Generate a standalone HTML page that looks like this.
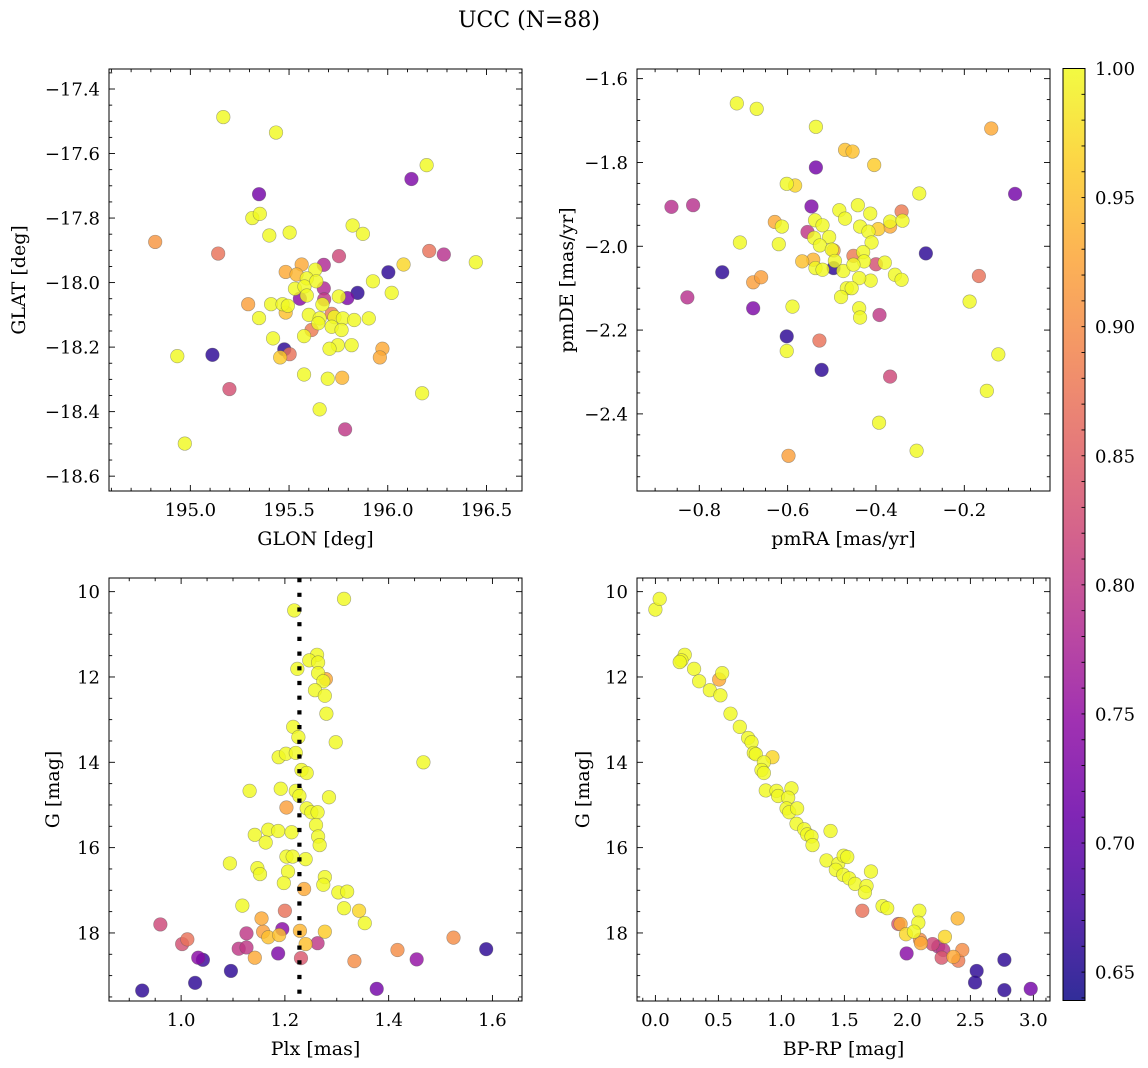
<!DOCTYPE html>
<html><head><meta charset="utf-8">
<style>
html,body{margin:0;padding:0;background:#fff;}
svg{display:block;font-family:"DejaVu Serif","Liberation Serif",serif;}
</style></head>
<body>
<svg id="fig" width="1148" height="1068" viewBox="0 0 1148 1068" xmlns="http://www.w3.org/2000/svg">
<rect width="1148" height="1068" fill="#fff"/>
<text x="529" y="27" font-size="22" text-anchor="middle">UCC (N=88)</text>
</svg>
<script>
// ---- Panel 1: GLON vs GLAT ----
const p1Glon = [195.167,195.434,196.197,196.12,195.348,195.314,195.352,195.40,195.503,195.822,195.874,194.822,195.141,195.753,196.21,196.284,196.446,196.08,196.003,195.925,196.02,195.847,195.795,195.483,195.564,195.676,195.633,195.676,195.538,195.59,195.53,195.578,195.555,195.638,195.59,195.678,195.409,195.467,195.494,195.483,195.293,195.348,195.669,195.752,195.716,195.6,195.655,195.73,195.773,195.83,195.904,195.716,195.648,195.766,195.614,195.576,195.419,195.817,195.747,195.705,195.476,195.503,195.455,195.112,194.934,195.973,195.96,195.576,195.696,195.769,195.198,196.174,195.655,195.784,194.972];
const p1Glat = [-17.487,-17.535,-17.636,-17.679,-17.726,-17.800,-17.787,-17.854,-17.845,-17.823,-17.849,-17.874,-17.910,-17.918,-17.902,-17.913,-17.937,-17.944,-17.968,-17.996,-18.032,-18.032,-18.048,-17.967,-17.944,-17.945,-17.96,-18.018,-17.975,-17.987,-18.019,-18.012,-18.05,-17.996,-18.04,-18.052,-18.067,-18.067,-18.072,-18.093,-18.067,-18.11,-18.068,-18.043,-18.097,-18.1,-18.111,-18.107,-18.111,-18.116,-18.111,-18.137,-18.126,-18.147,-18.147,-18.166,-18.173,-18.194,-18.194,-18.205,-18.207,-18.222,-18.232,-18.224,-18.228,-18.205,-18.232,-18.285,-18.298,-18.295,-18.33,-18.343,-18.393,-18.455,-18.499];
const p1Prob = [1,1,1,0.73,0.72,1,1,1,1,1,1,0.91,0.87,0.82,0.87,0.79,1,0.97,0.66,1,1,0.66,0.73,0.93,0.93,0.78,1,0.78,0.94,1,1,1,0.74,1,1,0.8,1,1,1,0.95,0.92,1,1,1,0.88,1,1,1,1,1,1,1,1,1,0.88,1,1,1,1,1,0.66,0.87,0.96,0.66,1,0.93,0.93,1,1,0.94,0.83,1,1,0.8,1];
const p1XTicks = [195.0,195.5,196.0,196.5];
const p1YTicks = [-17.4,-17.6,-17.8,-18.0,-18.2,-18.4,-18.6];

// ---- Panel 2: pmRA vs pmDE ----
const p2Pmra = [-0.715,-0.670,-0.536,-0.139,-0.470,-0.453,-0.404,-0.536,-0.602,-0.583,-0.302,-0.085,-0.863,-0.814,-0.546,-0.441,-0.483,-0.470,-0.342,-0.413,-0.629,-0.613,-0.538,-0.521,-0.436,-0.395,-0.368,-0.368,-0.340,-0.555,-0.417,-0.410,-0.540,-0.506,-0.527,-0.496,-0.500,-0.708,-0.620,-0.451,-0.429,-0.400,-0.380,-0.427,-0.567,-0.542,-0.537,-0.521,-0.496,-0.493,-0.474,-0.451,-0.748,-0.287,-0.357,-0.342,-0.412,-0.438,-0.678,-0.660,-0.167,-0.466,-0.455,-0.479,-0.827,-0.678,-0.589,-0.438,-0.436,-0.392,-0.188,-0.602,-0.528,-0.602,-0.123,-0.523,-0.368,-0.149,-0.393,-0.308,-0.598];
const p2Pmde = [-1.659,-1.672,-1.715,-1.719,-1.770,-1.774,-1.806,-1.812,-1.851,-1.855,-1.874,-1.875,-1.906,-1.902,-1.905,-1.902,-1.914,-1.934,-1.917,-1.922,-1.942,-1.953,-1.938,-1.950,-1.953,-1.959,-1.941,-1.953,-1.939,-1.966,-1.965,-1.991,-1.980,-1.978,-1.998,-2.010,-2.008,-1.991,-1.995,-2.023,-2.014,-2.043,-2.039,-2.036,-2.036,-2.032,-2.052,-2.056,-2.052,-2.035,-2.059,-2.044,-2.062,-2.017,-2.068,-2.080,-2.082,-2.076,-2.086,-2.074,-2.071,-2.100,-2.100,-2.121,-2.122,-2.148,-2.144,-2.148,-2.170,-2.164,-2.132,-2.215,-2.225,-2.250,-2.258,-2.295,-2.311,-2.345,-2.421,-2.488,-2.500];
const p2Prob = [1,1,1,0.93,0.95,0.95,0.96,0.72,1,0.97,1,0.72,0.79,0.79,0.73,1,1,1,0.88,1,0.93,1,1,1,1,0.96,1,0.93,1,0.8,1,1,1,1,1,0.92,1,1,1,0.88,1,0.83,1,1,0.95,0.94,1,1,0.66,1,1,1,0.66,0.66,1,1,1,1,0.92,0.92,0.87,1,1,1,0.79,0.73,1,1,1,0.8,1,0.66,0.87,1,1,0.66,0.82,1,1,1,0.92];
const p2XTicks = [-0.8,-0.6,-0.4,-0.2];
const p2YTicks = [-1.6,-1.8,-2.0,-2.2,-2.4];

// ---- Panel 3: Plx vs G ----
const p3Plx = [1.314,1.218,1.262,1.247,1.264,1.224,1.264,1.279,1.274,1.258,1.277,1.280,1.216,1.226,1.298,1.188,1.202,1.221,1.467,1.232,1.242,1.132,1.192,1.221,1.228,1.285,1.203,1.242,1.251,1.263,1.142,1.168,1.187,1.213,1.163,1.260,1.264,1.267,1.094,1.203,1.215,1.240,1.147,1.152,1.206,1.198,1.277,1.274,1.237,1.303,1.320,1.118,1.314,1.343,1.354,1.200,1.155,0.960,1.195,1.158,1.126,1.168,1.189,1.229,1.277,1.012,1.002,1.111,1.126,1.240,1.263,1.525,1.417,1.588,1.033,1.042,1.142,1.187,1.231,1.334,1.454,1.096,1.027,0.925,1.377];
const p3G = [10.17,10.44,11.48,11.61,11.66,11.81,11.91,12.05,12.10,12.31,12.44,12.86,13.17,13.41,13.53,13.88,13.80,13.78,14.00,14.18,14.25,14.67,14.62,14.67,14.79,14.82,15.06,15.08,15.17,15.17,15.70,15.58,15.61,15.64,15.88,15.47,15.74,15.94,16.37,16.21,16.21,16.27,16.48,16.62,16.56,16.83,16.69,16.87,16.97,17.05,17.03,17.36,17.42,17.48,17.77,17.48,17.66,17.80,17.91,17.97,18.01,18.10,18.05,17.95,17.97,18.15,18.26,18.37,18.34,18.26,18.24,18.11,18.40,18.38,18.58,18.63,18.58,18.48,18.59,18.66,18.62,18.89,19.17,19.35,19.31];
const p3Prob = [1,1,1,1,1,1,1,0.93,1,1,1,1,1,1,1,1,1,1,1,1,1,1,1,1,1,1,0.92,1,1,1,1,1,1,1,1,1,1,1,1,1,1,1,1,1,1,1,1,1,0.93,1,1,1,1,0.97,1,0.87,0.93,0.82,0.74,0.92,0.8,0.95,0.95,0.94,0.96,0.87,0.83,0.8,0.8,0.95,0.8,0.9,0.9,0.66,0.74,0.67,0.93,0.73,0.84,0.9,0.75,0.66,0.66,0.66,0.72];
const p3XTicks = [1.0,1.2,1.4,1.6];
const p3YTicks = [10,12,14,16,18];
const p3PlxMedian = 1.228;

// ---- Panel 4: BP-RP vs G ----
const p4Bprp = [0.000,0.034,0.233,0.207,0.193,0.307,0.530,0.506,0.347,0.432,0.516,0.596,0.670,0.736,0.763,0.781,0.797,0.929,0.861,0.842,0.861,0.876,0.961,0.974,1.080,1.054,1.041,1.062,1.125,1.120,1.181,1.205,1.239,1.247,1.390,1.358,1.451,1.494,1.523,1.432,1.491,1.538,1.585,1.711,1.676,1.663,1.803,1.840,1.642,2.095,2.087,1.928,1.946,2.399,1.989,2.052,2.100,2.108,2.298,1.994,2.200,2.245,2.285,2.272,2.365,2.404,2.436,2.550,2.537,2.770,2.770,2.979];
const p4G = [10.42,10.17,11.48,11.61,11.65,11.81,11.91,12.06,12.10,12.31,12.43,12.86,13.17,13.43,13.53,13.78,13.81,13.88,14.00,14.18,14.25,14.66,14.67,14.79,14.61,14.83,15.08,15.17,15.08,15.44,15.57,15.69,15.74,15.94,15.61,16.30,16.38,16.19,16.22,16.52,16.64,16.72,16.85,16.56,16.90,17.05,17.37,17.42,17.48,17.48,17.76,17.79,17.79,17.66,18.03,17.97,18.16,18.24,18.09,18.48,18.26,18.32,18.40,18.58,18.56,18.65,18.40,18.89,19.16,18.63,19.34,19.31];
const p4Prob = [1,1,1,1,1,1,1,0.93,1,1,1,1,1,1,1,1,1,0.97,1,1,1,1,1,1,1,1,1,1,1,1,1,1,1,1,1,1,1,1,1,1,1,1,1,1,1,1,1,1,0.87,1,1,0.84,0.93,0.94,0.97,1,0.9,0.93,0.97,0.74,0.82,0.79,0.8,0.84,0.93,0.88,0.9,0.66,0.66,0.66,0.66,0.72];
const p4XTicks = [0.0,0.5,1.0,1.5,2.0,2.5,3.0];
const p4YTicks = [10,12,14,16,18];

// ---- Colorbar ----
const cbTicks = [0.65,0.70,0.75,0.80,0.85,0.90,0.95,1.00];
const cbMin = 0.639, cbMax = 1.0;

const NS = "http://www.w3.org/2000/svg";
const svg = document.getElementById('fig');
function mk(tag, attrs, parent){
  const e = document.createElementNS(NS, tag);
  for (const k in attrs) e.setAttribute(k, attrs[k]);
  (parent||svg).appendChild(e);
  return e;
}
const plasmaStops = ["#0d0887","#41049d","#6a00a8","#8f0da4","#b12a90","#cc4778","#e16462","#f2844b","#fca636","#fcce25","#f0f921"];
function hex2rgb(h){return [parseInt(h.substr(1,2),16),parseInt(h.substr(3,2),16),parseInt(h.substr(5,2),16)];}
function plasma(t){
  t = Math.max(0, Math.min(1, t));
  const f = t*10, i = Math.min(9, Math.floor(f)), r = f - i;
  const a = hex2rgb(plasmaStops[i]), b = hex2rgb(plasmaStops[i+1]);
  return 'rgb(' + a.map((v,k)=>Math.round(v+(b[k]-v)*r)).join(',') + ')';
}
function probColor(p){ return plasma((p-cbMin)/(cbMax-cbMin)); }

function fmt(v, d){ const s = v.toFixed(d); return s.replace('-', '\u2212'); }

function panel(cfg){
  const g = mk('g', {});
  
  
  const L = cfg.box[0], T = cfg.box[1], R = cfg.box[2], B = cfg.box[3];
  const sx = v => L + (v - cfg.xlim[0])/(cfg.xlim[1]-cfg.xlim[0])*(R-L);
  const sy = v => B - (v - cfg.ylim[0])/(cfg.ylim[1]-cfg.ylim[0])*(B-T);
  const clip = mk('clipPath', {id: cfg.name+'-clip'}, g);
  mk('rect', {x:L, y:T, width:R-L, height:B-T}, clip);
  const pts = mk('g', {'clip-path':'url(#'+cfg.name+'-clip)'}, g);
  
  
  const idx = cfg.xs.map((_,i)=>i).sort((a,b)=>cfg.c[a]-cfg.c[b]);
  idx.forEach(i=>{
    const c = mk('circle', {cx: sx(cfg.xs[i]), cy: sy(cfg.ys[i]), r: 6.8, fill: probColor(cfg.c[i]), 'fill-opacity': 0.82, stroke: '#555', 'stroke-opacity':0.5, 'stroke-width':0.6}, pts);
    
    
  });
  if (cfg.vline !== undefined){
    const ln = mk('line', {x1: sx(cfg.vline), x2: sx(cfg.vline), y1: T, y2: B, stroke:'#000', 'stroke-width':4.2, 'stroke-dasharray':'4.2 10.5'}, pts);
    
    
  }
  const tk = mk('g', {stroke:'#000', 'stroke-width':0.9}, g);
  
  
  const lo = Math.min(cfg.xlim[0],cfg.xlim[1]), hi = Math.max(cfg.xlim[0],cfg.xlim[1]);
  for (let k = Math.ceil(lo/cfg.xminor - 1e-6); k*cfg.xminor <= hi + 1e-9; k++){
    const v = k*cfg.xminor, x = sx(v);
    const major = cfg.xticks.some(t=>Math.abs(t-v)<1e-6);
    const len = major ? 6 : 3.2;
    mk('line', {x1:x, x2:x, y1:B, y2:B-len}, tk);
    mk('line', {x1:x, x2:x, y1:T, y2:T+len}, tk);
  }
  const ylo = Math.min(cfg.ylim[0],cfg.ylim[1]), yhi = Math.max(cfg.ylim[0],cfg.ylim[1]);
  for (let k = Math.ceil(ylo/cfg.yminor - 1e-6); k*cfg.yminor <= yhi + 1e-9; k++){
    const v = k*cfg.yminor, y = sy(v);
    const major = cfg.yticks.some(t=>Math.abs(t-v)<1e-6);
    const len = major ? 6 : 3.2;
    mk('line', {x1:L, x2:L+len, y1:y, y2:y}, tk);
    mk('line', {x1:R, x2:R-len, y1:y, y2:y}, tk);
  }
  cfg.xticks.forEach(v=>{
    const t = mk('text', {x: sx(v), y: B+25, 'font-size':18, 'text-anchor':'middle'}, g);
    t.textContent = fmt(v, cfg.xdec);
    
    
  });
  cfg.yticks.forEach(v=>{
    const t = mk('text', {x: L-9, y: sy(v)+6.5, 'font-size':18, 'text-anchor':'end'}, g);
    t.textContent = fmt(v, cfg.ydec);
    
    
  });
  const fr = mk('rect', {x:L, y:T, width:R-L, height:B-T, fill:'none', stroke:'#000', 'stroke-width':1}, g);
  
  
  const xl = mk('text', {x:(L+R)/2, y:B+54, 'font-size':19, 'text-anchor':'middle'}, g);
  xl.textContent = cfg.xlabel;
  
  
  const yl = mk('text', {x:0, y:0, 'font-size':19, 'text-anchor':'middle', transform:'translate('+cfg.ylabelX+','+((T+B)/2)+') rotate(-90)'}, g);
  yl.textContent = cfg.ylabel;
  
  
}

panel({name:'glon-glat-panel', box:[109,69,522,491], xlim:[194.588,196.68], ylim:[-18.646,-17.338],
  xs:p1Glon, ys:p1Glat, c:p1Prob, xticks:p1XTicks, yticks:p1YTicks, xminor:0.1, yminor:0.05, xdec:1, ydec:1,
  xlabel:'GLON [deg]', ylabel:'GLAT [deg]', ylabelX:25});
panel({name:'pm-panel', box:[637,69,1050,491], xlim:[-0.941,-0.006], ylim:[-2.584,-1.577],
  xs:p2Pmra, ys:p2Pmde, c:p2Prob, xticks:p2XTicks, yticks:p2YTicks, xminor:0.05, yminor:0.05, xdec:1, ydec:1,
  xlabel:'pmRA [mas/yr]', ylabel:'pmDE [mas/yr]', ylabelX:573});
panel({name:'plx-g-panel', box:[109,578,522,1001], xlim:[0.861,1.657], ylim:[19.595,9.68],
  xs:p3Plx, ys:p3G, c:p3Prob, xticks:p3XTicks, yticks:p3YTicks, xminor:0.05, yminor:0.5, xdec:1, ydec:0,
  xlabel:'Plx [mas]', ylabel:'G [mag]', ylabelX:59, vline:p3PlxMedian});
panel({name:'cmd-panel', box:[637,578,1050,1001], xlim:[-0.146,3.132], ylim:[19.595,9.68],
  xs:p4Bprp, ys:p4G, c:p4Prob, xticks:p4XTicks, yticks:p4YTicks, xminor:0.1, yminor:0.5, xdec:1, ydec:0,
  xlabel:'BP-RP [mag]', ylabel:'G [mag]', ylabelX:589});

(function(){
  const L=1063, R=1085, T=68.5, B=1000.5;
  const g = mk('g', {});
  
  
  const defs = mk('defs', {}, g);
  const grad = mk('linearGradient', {id:'cbgrad', x1:0, y1:1, x2:0, y2:0}, defs);
  for (let i=0;i<=20;i++){
    mk('stop', {offset:(i/20), 'stop-color':plasma(i/20), 'stop-opacity':0.85}, grad);
  }
  mk('rect', {x:L, y:T, width:R-L, height:B-T, fill:'url(#cbgrad)', stroke:'#000', 'stroke-width':1}, g);
  const sy = v => B - (v-cbMin)/(cbMax-cbMin)*(B-T);
  for (let k=64; k<=100; k++){
    const v = k/100, y = sy(v);
    mk('line', {x1:R, x2:R-3.5, y1:y, y2:y, stroke:'#000', 'stroke-width':0.9}, g);
  }
  cbTicks.forEach(v=>{
    const t = mk('text', {x:R+10, y:sy(v)+6.5, 'font-size':18}, g);
    t.textContent = v.toFixed(2);
    
    
  });
})();
</script>
</body></html>
